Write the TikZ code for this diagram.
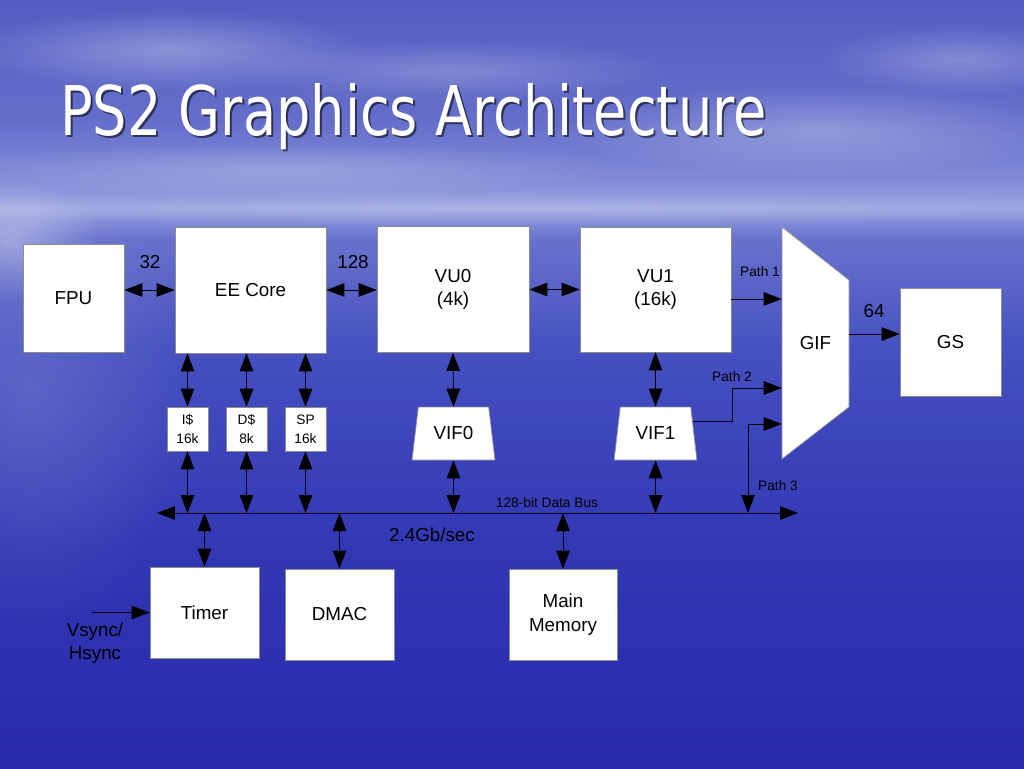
\documentclass[tikz,border=0pt]{standalone}
\usepackage{fontspec}
\setmainfont{Liberation Sans}
\newfontfamily\titlefont{DejaVu Sans}
\usetikzlibrary{arrows.meta,calc,shapes.geometric,fadings}

\definecolor{skyA}{RGB}{84,94,194}
\definecolor{skyB}{RGB}{100,110,202}
\definecolor{skyC}{RGB}{128,138,214}
\definecolor{hor}{RGB}{152,162,224}
\definecolor{seaA}{RGB}{104,114,204}
\definecolor{seaB}{RGB}{70,80,192}
\definecolor{seaC}{RGB}{50,55,180}
\definecolor{seaD}{RGB}{40,42,170}

\pgfdeclareverticalshading{ps2sky}{100bp}{color(0bp)=(seaD); color(25bp)=(seaD); color(39.19bp)=(seaC); color(52.21bp)=(seaB); color(59.5bp)=(seaA); color(61.4bp)=(hor); color(63.5bp)=(skyC); color(67.19bp)=(skyB); color(75bp)=(skyA); color(100bp)=(skyA)}
\tikzfading[name=softspot, inner color=transparent!0, outer color=transparent!100]

\tikzset{
  blk/.style={draw=black!45, line width=0.4pt, fill=white, inner sep=0pt, align=center, font=\fontsize{10.7}{13.5}\selectfont},
  cache/.style={blk, minimum width=0.82cm, minimum height=0.88cm, font=\fontsize{7.8}{10.8}\selectfont},
  vif/.style={blk, trapezium, trapezium left angle=75, trapezium right angle=75, trapezium stretches=true, minimum width=1.66cm, minimum height=1.06cm},
  lbl/.style={inner sep=0pt, align=center, font=\fontsize{10.7}{13.5}\selectfont},
  tiny/.style={inner sep=0pt, font=\fontsize{7.8}{9.5}\selectfont},
  wire/.style={line width=0.5pt, draw=black},
  dbl/.style={wire, {Triangle[length=0.36cm,width=0.27cm]}-{Triangle[length=0.36cm,width=0.27cm]}},
  sgl/.style={wire, -{Triangle[length=0.36cm,width=0.27cm]}},
  haze/.style={white, path fading=softspot}
}

\begin{document}
\begin{tikzpicture}[x=0.02cm, y=-0.02cm]
		%%%%% BACKGROUND %%%%%
		\useasboundingbox (0,0) rectangle (1024,768);
		\shade[shading=ps2sky] (0,0) rectangle (1024,768);
		
		\fill[haze, opacity=0.30] (170,50) ellipse (200 and 40);
		\fill[haze, opacity=0.22] (450,70) ellipse (220 and 30);
		\fill[haze, opacity=0.28] (820,130) ellipse (260 and 45);
		\fill[haze, opacity=0.25] (960,60) ellipse (140 and 35);
		\fill[haze, opacity=0.22] (280,170) ellipse (340 and 28);
		\fill[haze, opacity=0.20] (512,208) ellipse (700 and 18);
		\fill[haze, opacity=0.35] (10,240) ellipse (90 and 60);
		\fill[haze, opacity=0.14] (30,400) ellipse (160 and 230);
		
		%%%%% TITLE %%%%%
		\node[anchor=base west, inner sep=0pt, text=black, opacity=0.55, font=\titlefont\fontsize{39}{44}\selectfont] (titleshade) at (62,137) {\scalebox{0.79}[1]{PS2 Graphics Architecture}};
		\node[anchor=base west, inner sep=0pt, text=white, font=\titlefont\fontsize{39}{44}\selectfont] (title) at (60,135) {\scalebox{0.79}[1]{PS2 Graphics Architecture}};
		
		%%%%% BLOCKS %%%%%
		\node[blk, minimum width=2.02cm, minimum height=2.16cm] (fpu) at (73.5,298) {FPU};
		\node[blk, minimum width=3.02cm, minimum height=2.52cm] (ee) at (250.5,290) {EE Core};
		\node[blk, minimum width=3.04cm, minimum height=2.52cm] (vu0) at (453,289.5) {VU0\\(4k)};
		\node[blk, minimum width=3.02cm, minimum height=2.50cm] (vu1) at (655.5,289.5) {VU1\\(16k)};
		\node[blk, minimum width=2.02cm, minimum height=2.16cm] (gs) at (950.5,342) {GS};
		
		\draw[blk] (782,227) -- (849,280) -- (849,407) -- (782,459) -- cycle;
		\node[lbl, minimum width=1.34cm, minimum height=4.64cm] (gif) at (815.5,343) {GIF};
		
		\node[cache] (icache) at (187.5,429) {I\$\\16k};
		\node[cache] (dcache) at (246.5,429) {D\$\\8k};
		\node[cache] (spad) at (305.5,429) {SP\\16k};
		
		\node[vif] (vif0) at (453.5,433.5) {VIF0};
		\node[vif] (vif1) at (655.5,433.5) {VIF1};
		
		\node[blk, minimum width=2.18cm, minimum height=1.82cm] (timer) at (204.5,612.5) {Timer};
		\node[blk, minimum width=2.18cm, minimum height=1.82cm] (dmac) at (339.5,614.5) {DMAC};
		\node[blk, minimum width=2.16cm, minimum height=1.82cm] (mem) at (563,614.5) {Main\\Memory};
		
		%%%%% BUS %%%%%
		\coordinate (busL) at (157,513);
		\coordinate (busR) at (798,513);
		\draw[dbl] (busL) -- (busR);
		
		%%%%% CONNECTORS %%%%%
		\draw[dbl] (fpu.east |- ee) -- (ee.west);
		\draw[dbl] (ee.east) -- (vu0.west |- ee);
		\draw[dbl] (vu0.east) -- (vu1.west);
		
		\draw[dbl] (ee.south -| icache) -- (icache.north);
		\draw[dbl] (ee.south -| dcache) -- (dcache.north);
		\draw[dbl] (ee.south -| spad) -- (spad.north);
		\draw[dbl] (icache.south) -- (icache |- busL);
		\draw[dbl] (dcache.south) -- (dcache |- busL);
		\draw[dbl] (spad.south) -- (spad |- busL);
		
		\draw[dbl] (vu0.south) -- (vif0.north);
		\draw[dbl] (vif0.south) -- (vif0 |- busL);
		\draw[dbl] (vu1.south) -- (vif1.north);
		\draw[dbl] (vif1.south) -- (vif1 |- busL);
		
		\draw[dbl] (timer.north |- busL) -- (timer.north);
		\draw[dbl] (dmac.north |- busL) -- (dmac.north);
		\draw[dbl] (mem.north |- busL) -- (mem.north);
		
		\coordinate (vsync) at (92,612.5);
		\draw[sgl] (vsync) -- (timer.west);
		
		\coordinate (path1) at (731,299);
		\draw[sgl] (path1) -- (gif.west |- path1);
		\coordinate (path2) at (732,388);
		\draw[sgl] (vif1.18) -| (path2) -- (gif.west |- path2);
		\coordinate (path3) at (748,424);
		\draw[dbl] (path3 |- busL) |- (gif.west |- path3);
		
		\draw[sgl] (gif.east) ++(0,-9) coordinate (gifout) -- (gs.west |- gifout);
		
		%%%%% LABELS %%%%%
		\node[lbl] (w32) at (150,262) {32};
		\node[lbl] (w128) at (353,262) {128};
		\node[lbl] (w64) at (874,311) {64};
		\node[tiny] (p1lbl) at (760,272) {Path 1};
		\node[tiny] (p2lbl) at (732,377) {Path 2};
		\node[tiny] (p3lbl) at (778,486) {Path 3};
		\node[tiny] (buslbl) at (547,503) {128-bit Data Bus};
		\node[lbl] (rate) at (432,535) {2.4Gb/sec};
		\node[lbl] (vslbl) at (95,643) {Vsync/\\Hsync};
		
		%%%%% END %%%%%
\end{tikzpicture}
\end{document}
